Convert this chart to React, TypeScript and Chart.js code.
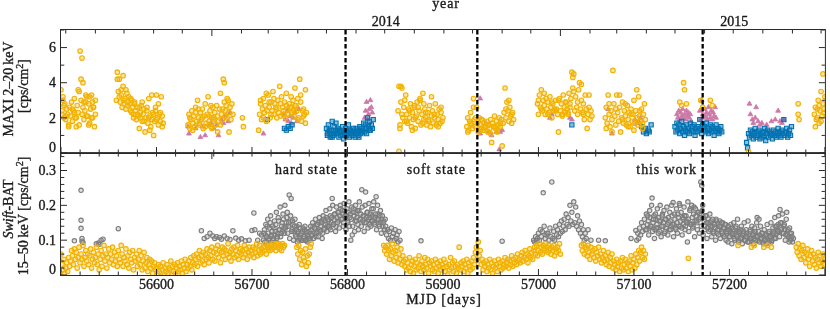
import React, { useEffect, useRef } from "react";
import { Chart, registerables } from "chart.js";
Chart.register(...registerables);

// ---------- axis / annotation data ----------
const MJD_MIN = 56500;
const MJD_MAX = 57300;
const mjdLabelValues = [56600, 56700, 56800, 56900, 57000, 57100, 57200];
const yearLabels = ["2014", "2015"];
const yearLabelMjd = [56840, 57205];
const markerLineMjd = [56798, 56936, 57172];
const stateLabels = ["hard state", "soft state", "this work"];
const stateLabelMjd = [56790, 56893, 57166];
const stateLabelAlign: CanvasTextAlign[] = ["right", "center", "right"];
const maxiTickValues = [0, 2, 4, 6];
const maxiTickLabels = ["0", "2", "4", "6"];
const batTickValues = [0, 0.1, 0.2, 0.3];
const batTickLabels = ["0", "0.1", "0.2", "0.3"];

// ---------- BAT 15-50 keV (daily runs: [start MJD, values]) ----------
const batSoftRuns: [number, number[]][] = [
  [56500, [
    0.06, 0.03, 0.015, 0.045, 0.005, 0.02, 0.035, 0.01, 0.05, 0.025,
    0.04, 0.07, 0.055, 0.03, 0.075, 0.045, 0.065, 0.02, 0.05, 0.08,
    0.035, 0.06, 0.045, 0.085, 0.025, 0.05, 0.07, 0.04, 0.06, 0.03,
    0.055, 0.075, 0.02, 0.045, 0.065, 0.035, 0.05, 0.08, 0.03, 0.06,
    0.015, 0.045, 0.07, 0.025, 0.055, 0.085, 0.04, 0.06, 0.02, 0.05,
    0.075, 0.035, 0.06, 0.045, 0.08, 0.03, 0.065, 0.04, 0.055, 0.025,
    0.07, 0.045, 0.035, 0.085, 0.06, 0.025, 0.05, 0.04, 0.075, 0.03,
    0.055, 0.02, 0.065, 0.045, 0.035, 0.07, 0.015, 0.05, 0.04, 0.06,
    0.025, 0.045, 0.07, 0.03, 0.055, 0.015, 0.04, 0.065, 0.02, 0.035,
    0.05, 0.01, 0.03, 0.045, 0.02, 0.04, 0.005, 0.025, 0.035, 0.015,
    0.02, 0.005, 0.03, 0.01, 0.025, -0.005, 0.015, 0.035, 0.0, 0.02,
    0.01, 0.03, 0.005, 0.02, 0.015, 0.04, 0.0, 0.025, 0.01, 0.03,
    0.005, 0.02, 0.035, 0.01, 0.025, 0.015, 0.04, 0.005, 0.03, 0.02,
    0.045, 0.01, 0.03, 0.02, 0.04, 0.025, 0.05, 0.015, 0.035, 0.055,
    0.03, 0.045, 0.06, 0.025, 0.05, 0.07, 0.035, 0.055, 0.04, 0.065,
    0.03, 0.06, 0.045, 0.075, 0.05, 0.035, 0.07, 0.055, 0.08, 0.045,
    0.065, 0.04, 0.075, 0.06, 0.085, 0.05, 0.07, 0.035, 0.065, 0.08,
    0.055, 0.075, 0.045, 0.07, 0.06, 0.09, 0.05, 0.065, 0.04, 0.075,
    0.06, 0.08, 0.05, 0.07, 0.055, 0.085, 0.045, 0.065, 0.075, 0.06,
    0.07, 0.05, 0.085, 0.06, 0.075, 0.045, 0.065, 0.08, 0.055, 0.07,
    0.06, 0.08, 0.05, 0.075, 0.065, 0.09, 0.055, 0.07, 0.085, 0.06,
    0.075, 0.065, 0.08, 0.07, 0.09, 0.06, 0.085, 0.075, 0.08, 0.07,
    0.085, 0.075, 0.09, 0.08, 0.085, 0.07, 0.09, 0.08, 0.09, 0.075,
    0.085, 0.07, 0.09, 0.08, 0.085,
  ]],
  [56747, [0.08, 0.06, 0.085, 0.045, 0.07, 0.03, 0.065, 0.05, 0.04, 0.075, 0.025, 0.055, 0.035, 0.06, 0.08, 0.09]],
  [56838, [
    0.085, 0.07,
    0.08, 0.06, 0.085, 0.07, 0.045, 0.075, 0.055, 0.09, 0.065, 0.04,
    0.07, 0.05, 0.08, 0.035, 0.06, 0.045, 0.075, 0.03, 0.055, 0.04,
    0.025, 0.045, 0.015, 0.035, 0.02, 0.05, 0.01, 0.03, 0.04, 0.005,
    0.025, 0.045, 0.015, 0.035, 0.02, 0.055, 0.03, 0.01, 0.04, 0.025,
    0.015, 0.05, 0.03, 0.02, 0.045, 0.005, 0.035, 0.025, 0.04, 0.015,
    0.03, 0.01, 0.045, 0.02, 0.035, 0.005, 0.025, 0.04, 0.015, 0.03,
    0.02, 0.045, 0.01, 0.035, 0.025, 0.0, 0.03, 0.015, 0.05, 0.02,
    0.035, 0.01, 0.04, 0.025, 0.005, 0.03, 0.02, 0.08, 0.015, 0.035,
    0.025, 0.04, 0.01, 0.03, 0.02, 0.045, 0.005, 0.035, 0.025, 0.015,
    0.04, 0.02, 0.05, 0.03, 0.065, 0.08, 0.045, 0.095, 0.055, 0.07,
    0.03, 0.045, 0.015, 0.035, 0.025, 0.04, 0.01, 0.03, 0.02, 0.045,
    0.015, 0.035, 0.005, 0.025, 0.04, 0.02, 0.03, 0.01, 0.045, 0.025,
    0.035, 0.015, 0.04, 0.02, 0.03, 0.05, 0.025, 0.035, 0.045, 0.02,
    0.04, 0.03, 0.055, 0.025, 0.045, 0.035, 0.05, 0.03, 0.06, 0.04,
    0.045, 0.035, 0.055, 0.065, 0.04, 0.05, 0.07, 0.045, 0.06, 0.035,
    0.055, 0.075, 0.05, 0.065, 0.045, 0.07, 0.08, 0.06, 0.085, 0.055,
    0.07, 0.09, 0.065, 0.08, 0.06, 0.085, 0.075, 0.09, 0.07, 0.08,
    0.065, 0.085, 0.075, 0.06, 0.08, 0.07, 0.085, 0.055, 0.075, 0.065,
    0.08, 0.07, 0.09, 0.06,
  ]],
  [57045, [
    0.085, 0.07, 0.09, 0.06, 0.08,
    0.075, 0.055, 0.085, 0.065, 0.045, 0.08, 0.06, 0.07, 0.05, 0.075,
    0.04, 0.065, 0.055, 0.08, 0.045, 0.06, 0.035, 0.05, 0.07, 0.04,
    0.055, 0.03, 0.045, 0.065, 0.025, 0.05, 0.035, 0.06, 0.02, 0.04,
    0.03, 0.015, 0.045, 0.025, 0.035, 0.01, 0.04, 0.02, 0.05, 0.015,
    0.03, 0.045, 0.02, 0.035, 0.01, 0.04, 0.025, 0.055, 0.015, 0.035,
    0.045, 0.02, 0.06, 0.03, 0.05, 0.07, 0.04, 0.065, 0.08, 0.05,
    0.07, 0.045, 0.06,
  ]],
  [57270, [
    0.08, 0.065, 0.09, 0.055, 0.075, 0.045, 0.07, 0.085, 0.05, 0.065,
    0.035, 0.06, 0.075, 0.045, 0.025, 0.055, 0.07, 0.04, 0.06, 0.03,
    0.05, 0.02, 0.045, 0.065, 0.035, 0.055, 0.025, 0.04, 0.06, 0.03,
    0.045,
  ]],
];
const batSoftExtra: [number, number][] = [
  [57157, 0.048], [57209, 0.085], [57223, 0.08], [57226, 0.085], [57236, 0.08], [57240, 0.085], [57244, 0.08],
];

const batHardRuns: [number, number[]][] = [
  [56712, [
    0.1, 0.13, 0.115, 0.095, 0.14, 0.12, 0.105, 0.15,
    0.11, 0.125, 0.1, 0.135, 0.115, 0.145, 0.105, 0.12, 0.155, 0.13,
    0.11, 0.14, 0.125, 0.16, 0.12, 0.135, 0.15, 0.18, 0.14, 0.23,
    0.155, 0.22, 0.13, 0.145, 0.125, 0.16, 0.11, 0.14, 0.12, 0.1,
    0.135, 0.115, 0.1, 0.125, 0.105, 0.13, 0.1, 0.12, 0.095, 0.11,
    0.125, 0.105, 0.13, 0.115, 0.14, 0.12, 0.135, 0.11, 0.145, 0.125,
    0.15, 0.13, 0.14, 0.155, 0.12, 0.16, 0.135, 0.145, 0.165, 0.14,
    0.155, 0.135, 0.17, 0.15, 0.22, 0.145, 0.16, 0.175, 0.14, 0.165,
    0.18, 0.155, 0.17, 0.19, 0.16, 0.175, 0.15, 0.185, 0.165, 0.17,
    0.155, 0.18, 0.14, 0.175, 0.16, 0.115, 0.19, 0.17, 0.155, 0.18,
    0.165, 0.145, 0.185, 0.16, 0.175, 0.245, 0.155, 0.17, 0.15, 0.238,
    0.165, 0.18, 0.16, 0.145, 0.175, 0.155, 0.17, 0.19, 0.15, 0.165,
    0.225, 0.16, 0.175, 0.145, 0.17, 0.15, 0.16, 0.14, 0.155, 0.13,
    0.14, 0.115, 0.13, 0.105, 0.125, 0.1, 0.135, 0.11, 0.12, 0.1,
    0.13, 0.105, 0.115, 0.095, 0.125, 0.1,
  ]],
  [56712.5, [
    0.12, 0.095, 0.145, 0.11, 0.16, 0.1, 0.135, 0.17, 0.115, 0.14,
    0.105, 0.155, 0.125, 0.18, 0.11, 0.165, 0.13, 0.195, 0.12, 0.15,
    0.175, 0.135, 0.2, 0.14, 0.165, 0.12, 0.15, 0.105, 0.17, 0.125,
    0.155, 0.1, 0.14, 0.115, 0.13, 0.095, 0.125, 0.145, 0.105, 0.12,
    0.1, 0.135, 0.11, 0.14, 0.1, 0.125, 0.115, 0.105,
  ]],
  [56760.5, [
    0.1, 0.14, 0.115, 0.15, 0.105, 0.135, 0.16, 0.12, 0.145, 0.11,
    0.165, 0.125, 0.15, 0.105, 0.17, 0.13, 0.155, 0.185, 0.125, 0.16,
    0.14, 0.19, 0.13, 0.165, 0.2, 0.145, 0.175, 0.125, 0.195, 0.15,
    0.18, 0.135, 0.2, 0.16, 0.185, 0.14, 0.205, 0.17, 0.13, 0.19,
    0.15, 0.21, 0.165, 0.1, 0.195, 0.14, 0.18, 0.125, 0.2, 0.155,
    0.185, 0.13, 0.21, 0.16, 0.14, 0.195, 0.17, 0.125, 0.2, 0.15,
    0.18, 0.135, 0.205, 0.165, 0.14, 0.19, 0.155, 0.21, 0.145, 0.175,
    0.13, 0.2, 0.16, 0.14, 0.185, 0.12, 0.17, 0.15, 0.13, 0.16,
  ]],
  [56995, [
    0.1, 0.095, 0.11, 0.1, 0.105,
    0.12, 0.1, 0.13, 0.11, 0.125, 0.236, 0.14, 0.105, 0.115, 0.12,
    0.12, 0.1, 0.135, 0.11, 0.267, 0.105, 0.125, 0.1, 0.14, 0.115,
    0.13, 0.11, 0.145, 0.12, 0.155, 0.125, 0.14, 0.16, 0.13, 0.175,
    0.145, 0.165, 0.14, 0.2, 0.155, 0.18, 0.145, 0.21, 0.15, 0.195,
    0.14, 0.17, 0.13, 0.155, 0.12, 0.145, 0.11, 0.13, 0.1, 0.12,
    0.105,
  ]],
  [57103, [
    0.1, 0.12, 0.105, 0.135, 0.115, 0.15, 0.125, 0.14,
    0.16, 0.13, 0.175, 0.145, 0.155, 0.135, 0.165, 0.14, 0.221, 0.15,
    0.17, 0.13, 0.16, 0.145, 0.135, 0.165, 0.125, 0.155, 0.14, 0.175,
    0.15, 0.12, 0.16, 0.135, 0.145, 0.165, 0.13, 0.155, 0.14, 0.17,
    0.208, 0.145, 0.16, 0.13, 0.15, 0.175, 0.14, 0.2, 0.155, 0.135,
    0.165, 0.145, 0.17, 0.14, 0.155, 0.095, 0.16, 0.15, 0.19, 0.145,
    0.165, 0.14, 0.195, 0.155, 0.17, 0.15, 0.18, 0.16, 0.175, 0.267,
    0.257, 0.2, 0.165, 0.14, 0.17, 0.15, 0.135, 0.16, 0.145, 0.13,
    0.155, 0.14, 0.125, 0.15, 0.135, 0.16, 0.12, 0.145, 0.13, 0.155,
    0.14, 0.125, 0.15, 0.115, 0.135, 0.145, 0.12, 0.13, 0.14, 0.11,
    0.125, 0.135, 0.115, 0.13, 0.105, 0.12, 0.14, 0.11, 0.125, 0.1,
    0.12, 0.13, 0.105, 0.115, 0.125, 0.1, 0.11, 0.12, 0.095, 0.115,
    0.105, 0.13, 0.1, 0.115, 0.12, 0.105, 0.125, 0.11, 0.165, 0.1,
    0.16, 0.115, 0.105, 0.12, 0.095, 0.11, 0.1, 0.115, 0.09, 0.105,
    0.12, 0.1, 0.11, 0.095, 0.115, 0.125, 0.105, 0.14, 0.12, 0.13,
    0.145, 0.125, 0.188, 0.135, 0.15, 0.12, 0.14, 0.13, 0.115, 0.18,
    0.125, 0.11, 0.135, 0.1, 0.12, 0.095, 0.105,
  ]],
  [57113.5, [
    0.13, 0.17, 0.115, 0.185, 0.14, 0.2, 0.125, 0.16, 0.105, 0.175,
    0.135, 0.19, 0.12, 0.155, 0.2, 0.11, 0.17, 0.14, 0.185, 0.125,
    0.16, 0.195, 0.115, 0.15, 0.18, 0.13, 0.2, 0.145, 0.11, 0.175,
    0.135, 0.19, 0.12, 0.165, 0.205, 0.14, 0.18, 0.115, 0.16, 0.195,
    0.13, 0.17, 0.15, 0.21, 0.125, 0.185, 0.145, 0.2, 0.135, 0.175,
    0.11, 0.19, 0.155, 0.13, 0.18, 0.12, 0.165, 0.14, 0.185, 0.115,
    0.155, 0.13, 0.17, 0.105, 0.15, 0.125, 0.175, 0.14, 0.11, 0.16,
    0.12, 0.145, 0.1, 0.155, 0.13, 0.115, 0.14, 0.105, 0.15, 0.12,
    0.135, 0.11, 0.145, 0.1, 0.125,
  ]],
  [57198.5, [
    0.095, 0.13, 0.11, 0.145, 0.09, 0.12, 0.15, 0.1, 0.135, 0.115,
    0.16, 0.095, 0.125, 0.105, 0.14, 0.09, 0.12, 0.15, 0.1, 0.13,
    0.11, 0.155, 0.095, 0.125, 0.105, 0.14, 0.115, 0.09, 0.135, 0.1,
    0.15, 0.11, 0.125, 0.095, 0.14, 0.105, 0.12, 0.09, 0.13, 0.1,
    0.115, 0.145, 0.095, 0.125, 0.11, 0.15, 0.1, 0.135, 0.12, 0.165,
    0.105, 0.14, 0.125, 0.17, 0.11, 0.15, 0.13, 0.175, 0.12, 0.145,
    0.1, 0.16, 0.115, 0.13, 0.095, 0.12, 0.105, 0.11,
  ]],
];
const batHardExtra: [number, number][] = [
  [56514, 0.098], [56521, 0.243], [56521, 0.157], [56521, 0.134], [56522, 0.105], [56522, 0.097], [56523, 0.093],
  [56537, 0.09], [56539, 0.092], [56540, 0.088], [56542, 0.1], [56544, 0.103], [56560, 0.133],
  [56647, 0.127], [56650, 0.105], [56653, 0.11], [56656, 0.12], [56659, 0.112], [56661, 0.105], [56663, 0.11],
  [56666, 0.108], [56668, 0.103], [56671, 0.112], [56674, 0.105], [56677, 0.102], [56680, 0.127], [56683, 0.106],
  [56686, 0.1], [56689, 0.104], [56693, 0.098], [56697, 0.1], [56700, 0.128], [56702, 0.178], [56703, 0.13],
  [56706, 0.1], [56708, 0.12], [56710, 0.115], [56877, 0.098], [56962, 0.097],
  [57052, 0.13], [57055, 0.1], [57063, 0.1], [57070, 0.098], [57097, 0.105], [57102, 0.128],
];

// ---------- MAXI 2-20 keV ----------
const maxiSoftRuns: [number, number[]][] = [
  [56500, [
    3.6, 2.4, 3.2, 2.0, 2.8, 1.9, 2.5, 2.2, 1.6, 2.6,
    2.1, 2.9, 1.8, 2.4, 3.1, 2.0, 1.5, 2.7, 2.3, 3.5,
    5.8, 3.0, 2.2, 2.6, 1.9, 2.4, 2.9, 3.2, 2.1, 2.8,
    1.7, 2.5, 3.3, 2.0, 2.6, 1.5, 2.2,
  ]],
  [56558, [
    3.0, 4.6, 3.5, 4.2, 2.9, 3.3, 2.6, 3.8, 2.8, 3.1,
    2.5, 3.4, 2.7, 3.2, 2.8, 2.4, 3.0, 2.6, 2.2, 2.9,
    2.4, 1.9, 2.6, 2.1, 1.4, 2.3, 2.7, 1.8, 2.2, 2.5,
    1.2, 2.0, 2.4, 1.7, 3.1, 2.1, 1.5, 1.9, 2.3, 1.0,
    1.8, 2.6, 3.3, 2.0, 1.6, 2.2, 1.8, 3.2, 2.1, 1.7,
  ]],
  [56633, [
    1.6, 2.2, 1.4, 1.9, 2.4, 1.7, 2.1, 1.5, 2.6, 1.8,
    3.0, 2.0, 1.6, 2.3, 1.9, 2.5, 1.4, 2.1, 2.8, 1.7,
    2.2, 3.2, 1.8, 2.4, 1.5, 2.0, 2.6, 1.9, 2.3, 1.6,
    2.7, 2.1, 1.8, 2.5, 3.4, 2.2, 1.9, 4.2, 2.9, 2.4,
    2.7, 2.0, 3.0, 2.3, 2.6, 1.9, 2.8, 2.2,
  ]],
  [56707, [
    1.3, 2.2, 2.8, 1.9, 2.5, 3.1, 2.3, 2.7, 1.8, 2.4,
    3.3, 2.6, 2.0, 2.9, 2.4, 3.5, 2.2, 2.8, 2.6, 2.5,
    3.0, 2.3, 3.8, 2.1, 3.2, 2.6, 2.4, 2.9, 2.0, 3.4,
    2.5, 2.2, 2.8, 2.6, 2.6, 2.3, 3.0, 2.1, 2.7, 2.7,
    2.4, 3.1, 2.0, 4.2, 2.9, 1.8, 2.4, 2.5, 2.2, 3.6,
    2.3,
  ]],
  [56853, [
    2.4, 3.8, 1.6, 2.9, 3.7, 2.0, 2.6, 1.8, 3.3, 2.2,
    1.7, 2.5, 2.0, 2.8, 1.5, 2.3, 1.9, 2.6, 1.4, 2.1,
    2.9, 1.8, 2.4, 3.0, 1.6, 2.2, 3.4, 1.9, 2.5, 2.0,
    1.6, 2.3, 1.8, 2.7, 1.5, 2.1, 2.4, 1.7, 2.0, 2.8,
    1.6, 2.2, 1.9, 2.5, 1.7, 2.3, 1.8, 2.0,
  ]],
  [56925, [
    1.5, 2.0, 1.3, 1.8, 2.3, 1.6, 1.4, 3.1, 1.9, 1.5,
    2.6, 1.7, 1.2, 2.0, 1.6, 1.4, 1.9, 1.3, 1.7, 1.5,
    1.5, 1.8, 1.2, 1.6, 1.4, 1.9, 0.6, 1.7, 1.5, 2.1,
    1.4, 1.8, 1.2, 1.6, 2.0, 1.5, 1.9, 0.4, 1.7, 2.3,
    3.7, 2.0, 2.9, 2.4, 1.8, 2.6, 2.1, 1.7, 2.3, 1.9,
  ]],
  [56999, [
    2.8, 2.2, 3.3, 2.6, 3.6, 2.4, 3.0, 2.7, 2.2, 3.1,
    2.5, 2.9, 2.3, 3.2, 2.6, 2.0, 2.8, 2.4, 2.5, 3.0,
    2.5, 2.2, 1.2, 3.1, 2.4, 2.8, 2.1, 3.3, 2.6, 2.3,
    2.9, 2.5, 2.2, 3.4, 2.8, 3.1, 4.6, 4.3, 4.5, 2.4,
    3.2, 2.6, 2.2, 3.6, 4.0, 2.5, 3.0, 2.3, 2.8, 1.9,
    3.3, 2.5, 1.4, 2.2, 2.6, 1.9, 2.4, 2.1,
  ]],
  [57070, [
    2.0, 2.6, 1.7, 3.3, 2.2, 1.5, 2.4, 1.9, 4.7, 2.8,
    2.1, 1.6, 3.3, 2.3, 1.8, 2.6, 1.2, 2.0, 2.9, 1.7,
    2.4, 2.1, 1.6, 2.7, 1.9, 2.3, 1.5, 2.5, 1.8, 2.2,
    3.0, 1.7, 2.4, 2.0, 1.6, 3.2, 2.1, 1.8, 2.5, 1.4,
    2.2, 2.8, 1.9,
  ]],
  [57289, [2.2, 2.6, 1.9, 2.5, 3.0, 1.7, 2.4, 3.5, 2.1, 2.8, 2.3, 3.2]],
];
const maxiSoftExtra: [number, number][] = [
  [56501, 2.2], [56502, 3.0], [56503, 2.7], [56505, 2.1], [56508, 1.5], [56512, 2.5], [56514, 2.3], [56516, 2.0],
  [56518, 3.6], [56519, 1.6], [56521, 4.2], [56522, 5.4], [56523, 4.0], [56524, 2.9], [56526, 3.3], [56527, 2.1],
  [56529, 1.6], [56530, 3.2], [56532, 2.0], [56533, 2.9], [56534, 2.6], [56536, 3.0],
  [56559, 4.2], [56561, 3.2], [56563, 3.6], [56565, 4.4], [56566, 3.0], [56568, 3.6], [56570, 2.9], [56573, 3.1],
  [56574, 2.3], [56576, 2.0], [56577, 2.8], [56580, 2.2], [56582, 2.6], [56583, 2.0], [56585, 2.9], [56587, 1.8],
  [56590, 2.6], [56592, 2.0], [56593, 1.3], [56595, 3.3], [56597, 2.2], [56599, 2.4], [56600, 1.9], [56602, 2.8],
  [56604, 2.3], [56606, 1.5],
  [56635, 2.0], [56638, 1.3], [56641, 2.3], [56644, 2.5], [56645, 1.7], [56648, 2.0], [56651, 1.5], [56655, 2.1],
  [56657, 2.7], [56658, 1.4], [56660, 2.0], [56664, 1.2], [56667, 1.6], [56669, 2.5], [56671, 4.0], [56672, 2.1],
  [56674, 3.1], [56676, 1.2], [56690, 2.0], [56691, 1.5],
  [56709, 3.0], [56712, 2.0], [56715, 3.4], [56718, 2.9], [56720, 2.2], [56723, 3.1], [56726, 2.0], [56730, 2.8],
  [56733, 2.2], [56736, 2.7], [56741, 3.2], [56744, 2.4], [56745, 3.7], [56748, 1.9], [56751, 3.3], [56754, 2.1],
  [56756, 1.7],
  [56854, 0.1], [56855, 1.4], [56856, 3.8], [56857, 2.2], [56860, 3.0], [56862, 1.8], [56865, 2.4], [56868, 1.3],
  [56870, 2.7], [56871, 2.0], [56874, 2.6], [56876, 3.1], [56879, 1.7], [56880, 2.8], [56882, 2.3], [56885, 1.9],
  [56888, 3.2], [56891, 2.2], [56895, 1.5], [56898, 2.6],
  [56926, 1.2], [56929, 1.7], [56932, 2.6], [56934, 2.0], [56938, 1.4], [56940, 1.9], [56943, 1.3], [56947, 1.6],
  [56950, 1.1], [56954, 1.5], [56957, 1.3], [56960, 1.7], [56966, 2.5], [56969, 3.0], [56972, 2.2],
  [57000, 3.0], [57003, 2.5], [57006, 3.4], [57010, 2.2], [57014, 2.9], [57018, 2.4], [57021, 3.0], [57025, 2.2],
  [57028, 2.9], [57031, 2.3], [57033, 2.6], [57036, 3.7], [57037, 3.5], [57041, 2.9], [57045, 3.9], [57047, 2.2],
  [57053, 3.3],
  [57071, 1.4], [57074, 2.8], [57077, 1.2], [57081, 2.5], [57085, 3.3], [57088, 1.9], [57091, 2.8], [57094, 1.5],
  [57097, 2.2], [57100, 1.3], [57103, 3.6], [57106, 2.4], [57109, 1.7],
  [57148, 2.9], [57150, 2.7], [57152, 4.0], [57153, 3.6], [57155, 2.8], [57170, 3.0], [57172, 2.6], [57180, 3.0],
  [57182, 2.7], [57220, 0.08], [57272, 2.8], [57272, 2.2], [57273, 1.9],
  [57290, 1.5], [57292, 2.0], [57294, 2.7], [57296, 1.8], [57298, 4.5], [57299, 2.5],
];

const maxiHardRuns: [number, number[]][] = [
  [56778, [
    1.4, 1.1, 1.6, 1.2, 0.9, 1.3, 1.8, 1.0, 1.5, 1.2,
    1.7, 1.1, 1.4, 0.9, 1.3, 1.0, 1.2, 1.5, 0.8, 1.1,
    1.4, 1.0, 1.2, 1.6, 0.9, 1.3, 1.1, 1.0, 1.4, 1.2,
    0.9, 1.1, 1.3, 1.0, 1.2, 1.5, 1.1, 1.4, 1.3, 1.7,
    1.2, 1.6, 1.4, 2.0, 1.5, 1.8, 1.3, 1.6, 1.4, 1.9,
  ]],
  [57143, [
    1.5, 1.2, 1.7, 1.3, 1.6, 1.1, 1.4, 1.8, 1.2, 1.5,
    1.0, 1.3, 1.6, 1.2, 1.4, 1.1, 1.7, 1.3, 1.5, 1.2,
    1.6, 1.0, 1.4, 1.2, 1.5, 1.3, 1.9, 1.4, 1.1, 1.6,
    1.3, 1.5, 1.2, 1.7, 1.4, 1.1, 1.3, 1.6, 1.2, 1.5,
    1.4, 1.0, 1.3, 1.6, 1.2, 1.4, 1.1, 1.3, 1.5, 1.2,
  ]],
  [57218, [
    0.6, 0.3, 1.1, 0.9, 1.3, 1.0, 1.2, 0.8, 1.1, 1.4,
    0.9, 1.2, 1.0, 1.3, 0.8, 1.1, 0.9, 1.2, 1.0, 1.4,
    0.7, 1.1, 1.3, 0.9, 1.2, 1.0, 1.1, 0.8, 1.3, 1.0,
    1.2, 0.9, 1.1, 1.4, 1.0, 1.2, 0.9, 1.3, 1.1, 1.9,
    1.0, 1.2, 1.4, 0.9, 1.1, 1.3, 1.0, 1.5,
  ]],
];
const maxiHardExtra: [number, number][] = [
  [56716, 1.9], [56734, 1.4], [56736, 1.3], [56738, 1.5], [56740, 1.4], [56742, 1.6],
  [56779, 1.0], [56781, 1.3], [56784, 0.9], [56786, 1.1], [56789, 1.3], [56792, 1.2], [56795, 1.0], [56799, 1.1],
  [56802, 1.3], [56805, 1.2], [56809, 1.4], [56812, 0.9], [56815, 1.2], [56820, 1.1], [56823, 1.3],
  [57035, 1.6], [57108, 1.5], [57110, 1.2], [57112, 1.4], [57113, 1.1], [57115, 1.3], [57116, 1.2], [57118, 1.6],
];

const maxiInterRuns: [number, number[]][] = [
  [57145, [2.2, 2.0, 2.4, 1.9, 2.3, 2.1, 2.5, 2.0, 2.2, 1.9, 2.4, 2.1, 2.3, 2.0, 2.2, 1.8]],
  [57169, [2.4, 1.9, 3.0, 2.2, 2.0, 2.5, 2.1, 2.3, 1.9, 2.6, 2.2, 2.0, 2.4, 1.9, 2.3, 2.1, 2.6, 2.0]],
];
const maxiInterExtra: [number, number][] = [
  [56633, 1.5], [56634, 1.1], [56641, 1.4], [56646, 0.9], [56648, 1.5], [56651, 1.0], [56655, 1.6], [56657, 1.7],
  [56660, 1.4], [56663, 1.6], [56665, 1.0], [56668, 1.9], [56670, 1.7], [56672, 2.1], [56675, 1.8], [56677, 2.3],
  [56712, 1.1], [56733, 2.2], [56735, 1.9], [56737, 2.4], [56738, 1.8], [56740, 2.1], [56741, 1.7], [56743, 2.0],
  [56745, 2.3], [56747, 1.8], [56749, 2.5],
  [56818, 2.0], [56819, 2.4], [56820, 2.9], [56821, 1.9], [56822, 2.2], [56823, 2.5], [56824, 3.0], [56825, 2.6], [56826, 2.3],
  [56939, 3.1], [56939, 1.1], [56942, 1.4], [56945, 1.7], [56948, 1.2], [56951, 1.0], [56956, 1.2], [56959, 0.2],
  [56960, 1.2], [56962, 1.3],
  [57012, 2.0], [57014, 2.2], [57033, 2.0], [57035, 1.9],
  [57073, 2.5], [57077, 1.1], [57101, 1.9], [57103, 1.7], [57105, 1.8], [57107, 2.0],
  [57221, 2.8], [57222, 2.2], [57224, 1.9], [57225, 1.7], [57227, 2.0], [57228, 2.6], [57230, 1.8], [57232, 1.6],
  [57234, 1.7], [57239, 1.6], [57244, 1.8], [57248, 1.9], [57251, 2.4], [57253, 1.8], [57255, 1.7], [57257, 1.9],
];

// ---------- styles ----------
const FONT = '"Liberation Serif", "Times New Roman", serif';
const FS = 14;
const AXIS = "#2a2a2a";
const TEXT = "#1a1a1a";
const ORANGE = "#F2B200";
const ORANGE_FILL = "rgba(242,178,0,0.35)";
const GREY = "#7c7c7c";
const GREY_FILL = "rgba(150,150,150,0.3)";
const BLUE = "#0072B2";
const BLUE_FILL = "rgba(0,114,178,0.45)";
const PINK = "#CC79A7";

function expand(runs: [number, number[]][], extra: [number, number][]) {
  const pts: { x: number; y: number }[] = [];
  runs.forEach(([start, vals]) => vals.forEach((v, i) => pts.push({ x: start + i, y: v })));
  extra.forEach(([x, y]) => pts.push({ x, y }));
  return pts;
}

function monthTicks() {
  const out: { mjd: number; major: boolean }[] = [];
  for (let y = 2013; y <= 2015; y++)
    for (let m = 0; m < 12; m++) {
      const mjd = Date.UTC(y, m, 1) / 86400000 + 40587;
      if (mjd >= MJD_MIN && mjd <= MJD_MAX) out.push({ mjd, major: m === 0 });
    }
  return out;
}

type Piece = { t: string; italic?: boolean; sup?: boolean };
function drawPieces(ctx: CanvasRenderingContext2D, pieces: Piece[], x: number, y: number, align: "left" | "center" | "right", spacing = 0) {
  const fontFor = (p: Piece) => `${p.italic ? "italic " : ""}${p.sup ? Math.round(FS * 0.7) : FS}px ${FONT}`;
  (ctx as any).letterSpacing = spacing + "px";
  let total = 0;
  const widths = pieces.map((p) => {
    ctx.font = fontFor(p);
    const w = ctx.measureText(p.t).width;
    total += w;
    return w;
  });
  let cx = align === "left" ? x : align === "center" ? x - total / 2 : x - total;
  ctx.textAlign = "left";
  ctx.textBaseline = "alphabetic";
  ctx.fillStyle = TEXT;
  ctx.strokeStyle = TEXT;
  ctx.lineWidth = 0.35;
  ctx.lineJoin = "round";
  pieces.forEach((p, i) => {
    ctx.font = fontFor(p);
    const yy = p.sup ? y - FS * 0.38 : y;
    ctx.fillText(p.t, cx, yy);
    ctx.strokeText(p.t, cx, yy);
    cx += widths[i];
  });
  (ctx as any).letterSpacing = "0px";
}

function rotatedTitle(ctx: CanvasRenderingContext2D, pieces: Piece[], baselineX: number, centerY: number) {
  ctx.save();
  ctx.translate(baselineX, centerY);
  ctx.rotate(-Math.PI / 2);
  drawPieces(ctx, pieces, 0, 0, "center");
  ctx.restore();
}

function axesPlugin(panel: "top" | "bottom") {
  return {
    id: "axes_" + panel,
    afterDatasetsDraw(chart: any) {
      const ctx: CanvasRenderingContext2D = chart.ctx;
      const a = chart.chartArea;
      const xs = chart.scales.x;
      const ys = chart.scales.y;
      ctx.save();
      // dashed markers
      ctx.strokeStyle = "#000";
      ctx.lineWidth = 2.3;
      ctx.setLineDash([4.5, 2.5]);
      markerLineMjd.forEach((m) => {
        const px = xs.getPixelForValue(m);
        ctx.beginPath();
        ctx.moveTo(px, a.top);
        ctx.lineTo(px, a.bottom);
        ctx.stroke();
      });
      ctx.setLineDash([]);
      // frame
      ctx.strokeStyle = AXIS;
      ctx.lineWidth = 1;
      ctx.strokeRect(a.left - 0.5, a.top - 0.5, a.right - a.left + 1, a.bottom - a.top + 1);
      const line = (x1: number, y1: number, x2: number, y2: number) => {
        ctx.beginPath();
        ctx.moveTo(x1, y1);
        ctx.lineTo(x2, y2);
        ctx.stroke();
      };
      // MJD ticks on bottom edge
      for (let m = MJD_MIN; m <= MJD_MAX; m += 20) {
        const px = xs.getPixelForValue(m);
        const len = m % 100 === 0 ? 6 : 3.5;
        line(px, a.bottom, px, a.bottom - len);
        if (panel === "bottom") line(px, a.top, px, a.top + 3.5);
      }
      // month / year ticks
      monthTicks().forEach(({ mjd, major }) => {
        const px = xs.getPixelForValue(mjd);
        if (panel === "top") line(px, a.top, px, a.top + (major ? 6 : 3.5));
        else if (major) line(px, a.top, px, a.top + 6);
      });
      // y ticks
      if (panel === "top") {
        for (let v = 0; v <= 7; v++) {
          const py = ys.getPixelForValue(v);
          const len = v % 2 === 0 ? 6 : 3.3;
          line(a.left, py, a.left + len, py);
          line(a.right, py, a.right - len, py);
        }
      } else {
        for (let k = 0; k <= 17; k++) {
          const py = ys.getPixelForValue(k * 0.02);
          const len = k % 5 === 0 ? 6 : 3.3;
          line(a.left, py, a.left + len, py);
          line(a.right, py, a.right - len, py);
        }
      }
      // labels
      const vals = panel === "top" ? maxiTickValues : batTickValues;
      const labs = panel === "top" ? maxiTickLabels : batTickLabels;
      vals.forEach((v, i) => {
        const py = ys.getPixelForValue(v);
        const by = v === 0 ? a.bottom - 1.3 : py + 4.7;
        drawPieces(ctx, [{ t: labs[i] }], a.left - 5, by, "right");
      });
      if (panel === "top") {
        drawPieces(ctx, [{ t: "year" }], 446, 7.5, "center", 0.9);
        yearLabels.forEach((t, i) => drawPieces(ctx, [{ t }], xs.getPixelForValue(yearLabelMjd[i]), 25.7, "center"));
        rotatedTitle(ctx, [{ t: "MAXI 2\u201320\u2009keV" }], 13, 89);
        rotatedTitle(ctx, [{ t: "[cps/cm" }, { t: "2", sup: true }, { t: "]" }], 28, 86);
      } else {
        mjdLabelValues.forEach((m) => drawPieces(ctx, [{ t: String(m) }], xs.getPixelForValue(m), a.bottom + 14, "center"));
        drawPieces(ctx, [{ t: "MJD [days]" }], 444, a.bottom + 28.5, "center", 0.9);
        stateLabels.forEach((t, i) =>
          drawPieces(ctx, [{ t }], xs.getPixelForValue(stateLabelMjd[i]), a.top + 21, stateLabelAlign[i] as any, 0.9)
        );
        rotatedTitle(ctx, [{ t: "Swift", italic: true }, { t: "-BAT" }], 13, 61);
        rotatedTitle(ctx, [{ t: "15\u201350\u2009keV [cps/cm" }, { t: "2", sup: true }, { t: "]" }], 28, 68);
      }
      ctx.restore();
    },
  };
}

function baseOptions(ymax: number, padding: any) {
  return {
    animation: false as const,
    responsive: false,
    events: [] as any[],
    layout: { padding },
    scales: {
      x: { type: "linear" as const, min: MJD_MIN, max: MJD_MAX, display: false },
      y: { type: "linear" as const, min: 0, max: ymax, display: false },
    },
    plugins: { legend: { display: false }, tooltip: { enabled: false } },
  };
}

export default function App() {
  const topRef = useRef<HTMLCanvasElement>(null);
  const botRef = useRef<HTMLCanvasElement>(null);
  useEffect(() => {
    const top = new Chart(topRef.current!, {
      type: "scatter",
      data: {
        datasets: [
          {
            data: expand(maxiSoftRuns, maxiSoftExtra),
            pointStyle: "circle",
            pointRadius: 2.3,
            pointBorderWidth: 1.1,
            pointBorderColor: ORANGE,
            pointBackgroundColor: ORANGE_FILL,
          },
          {
            data: expand(maxiHardRuns, maxiHardExtra),
            pointStyle: "rect",
            pointRadius: 3,
            pointBorderWidth: 1.1,
            pointBorderColor: BLUE,
            pointBackgroundColor: BLUE_FILL,
          },
          {
            data: expand(maxiInterRuns, maxiInterExtra),
            pointStyle: "triangle",
            pointRadius: 2.8,
            pointBorderWidth: 0.8,
            pointBorderColor: PINK,
            pointBackgroundColor: PINK,
          },
        ],
      },
      options: baseOptions(7, { left: 61, right: 5, top: 30, bottom: 7 }) as any,
      plugins: [axesPlugin("top")],
    });
    const bot = new Chart(botRef.current!, {
      type: "scatter",
      data: {
        datasets: [
          {
            data: expand(batSoftRuns, batSoftExtra),
            pointStyle: "circle",
            pointRadius: 2.3,
            pointBorderWidth: 1.1,
            pointBorderColor: ORANGE,
            pointBackgroundColor: ORANGE_FILL,
          },
          {
            data: expand(batHardRuns, batHardExtra),
            pointStyle: "circle",
            pointRadius: 2.2,
            pointBorderWidth: 1.1,
            pointBorderColor: GREY,
            pointBackgroundColor: GREY_FILL,
          },
        ],
      },
      options: baseOptions(0.35, { left: 61, right: 5, top: 5, bottom: 34 }) as any,
      plugins: [axesPlugin("bottom")],
    });
    return () => {
      top.destroy();
      bot.destroy();
    };
  }, []);
  return (
    <div style={{ position: "fixed", left: 0, top: 0, width: 830, height: 309, background: "#fff" }}>
      <canvas ref={topRef} width={830} height={160} style={{ position: "absolute", left: 0, top: 0 }} />
      <canvas ref={botRef} width={830} height={161} style={{ position: "absolute", left: 0, top: 148 }} />
    </div>
  );
}
